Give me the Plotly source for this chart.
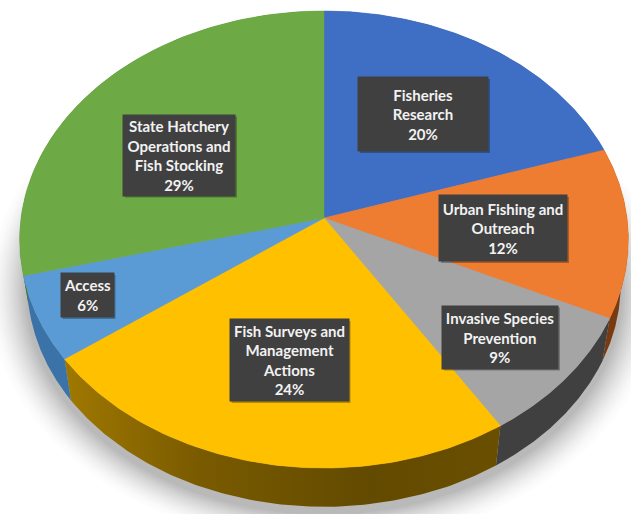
import numpy as np
import plotly.graph_objects as go

categories = ["Fisheries Research", "Urban Fishing and Outreach", "Invasive Species Prevention",
              "Fish Surveys and Management Actions", "Access", "State Hatchery Operations and Fish Stocking"]
label_lines = ["Fisheries<br>Research", "Urban Fishing and<br>Outreach", "Invasive Species<br>Prevention",
               "Fish Surveys and<br>Management<br>Actions", "Access", "State Hatchery<br>Operations and<br>Fish Stocking"]
values = [20, 12, 9, 24, 6, 29]
top_colors = ["#3F6FC4", "#EE7D31", "#A5A5A5", "#FFC000", "#5B9BD5", "#6DAA45"]
wall_colors = ["#2B4F90", "#7A3A10", "#404040", "#7A5B00", "#3B72A8", "#4A7A2E"]
# label box: centre x, centre y, width, height (pixels)
boxes = [(423, 114, 130, 74), (503, 228, 128, 66), (500, 337, 116, 63),
         (289, 360, 119, 82), (87, 295, 53, 44), (179, 155, 112, 81)]

CX, CY, A, C, K = 324, 218, 303, 226.5, 0.0941
DEPTH, BOTTOM_SCALE = 45, 0.975


def rim(frac):
    th = 2 * np.pi * np.asarray(frac)
    u, v = np.sin(th), np.cos(th)
    den = 1 + K * v
    return A * u / den, C * v / den


def top_xy(frac):
    x, y = rim(frac)
    return CX + x, CY - y


def bottom_xy(frac, s=BOTTOM_SCALE, drop=DEPTH):
    x, y = rim(frac)
    return CX + s * x, CY + drop - s * y


fractions = np.cumsum([0] + values) / sum(values)
fig = go.Figure()

# soft shadow under the pie, widest and lightest layer first, in opaque greys
ring = np.linspace(0, 1, 240)
for i in range(18):
    s = BOTTOM_SCALE + 0.007 * (18 - i)
    sx, sy = bottom_xy(ring, s=s, drop=DEPTH + 6)
    grey = int(round(253 - 68 * (i / 17) ** 1.5))
    fig.add_trace(go.Scatter(x=np.clip(sx, 0, 631), y=np.clip(sy, 0, 514), mode="lines", fill="toself",
                             line=dict(width=0.5, color=f"rgb({grey},{grey},{grey})"),
                             fillcolor=f"rgb({grey},{grey},{grey})", hoverinfo="skip", showlegend=False))

# side walls
for i, name in enumerate(categories):
    t = np.linspace(fractions[i], fractions[i + 1], 120)
    tx, ty = top_xy(t)
    bx, by = bottom_xy(t)
    kw = dict(fillcolor=wall_colors[i])
    if name.startswith("Fish Surveys"):
        kw = dict(fillgradient=dict(type="horizontal",
                                    colorscale=[[0, "#A07800"], [0.3, "#7A5B00"], [0.7, "#624A00"], [1, "#6A4F00"]]))
    fig.add_trace(go.Scatter(x=np.r_[tx, bx[::-1]], y=np.r_[ty, by[::-1]], mode="lines", fill="toself",
                             line_width=0, hoverinfo="skip", showlegend=False, **kw))

# top faces
for i, name in enumerate(categories):
    t = np.linspace(fractions[i], fractions[i + 1], 120)
    tx, ty = top_xy(t)
    fig.add_trace(go.Scatter(x=np.r_[CX, tx, CX], y=np.r_[CY, ty, CY], mode="lines", fill="toself",
                             line=dict(width=0.5, color=top_colors[i]), fillcolor=top_colors[i],
                             name=name, hoverinfo="name", showlegend=False))

# data labels
for (cx, cy, w, h), txt, v in zip(boxes, label_lines, values):
    fig.add_shape(type="rect", x0=cx - w / 2 + 2, x1=cx + w / 2 + 2, y0=cy - h / 2 + 2, y1=cy + h / 2 + 2,
                  fillcolor="rgba(0,0,0,0.28)", line_width=0, layer="above")
    fig.add_annotation(x=cx, y=cy, xref="x", yref="y", text=f"<b>{txt}<br>{v}%</b>", showarrow=False,
                       width=w, height=h, bgcolor="#404040", align="center", valign="middle", borderpad=0,
                       font=dict(family="Lato", size=15, color="#F2F2F2"))

fig.update_xaxes(range=[0, 631], visible=False, fixedrange=True)
fig.update_yaxes(range=[514, 0], visible=False, fixedrange=True)
fig.update_layout(width=631, height=514, margin=dict(l=0, r=0, t=0, b=0),
                  paper_bgcolor="white", plot_bgcolor="white", showlegend=False)
fig.write_html("out.html", config={"displayModeBar": False},
               post_script="document.body.style.margin='0';")
